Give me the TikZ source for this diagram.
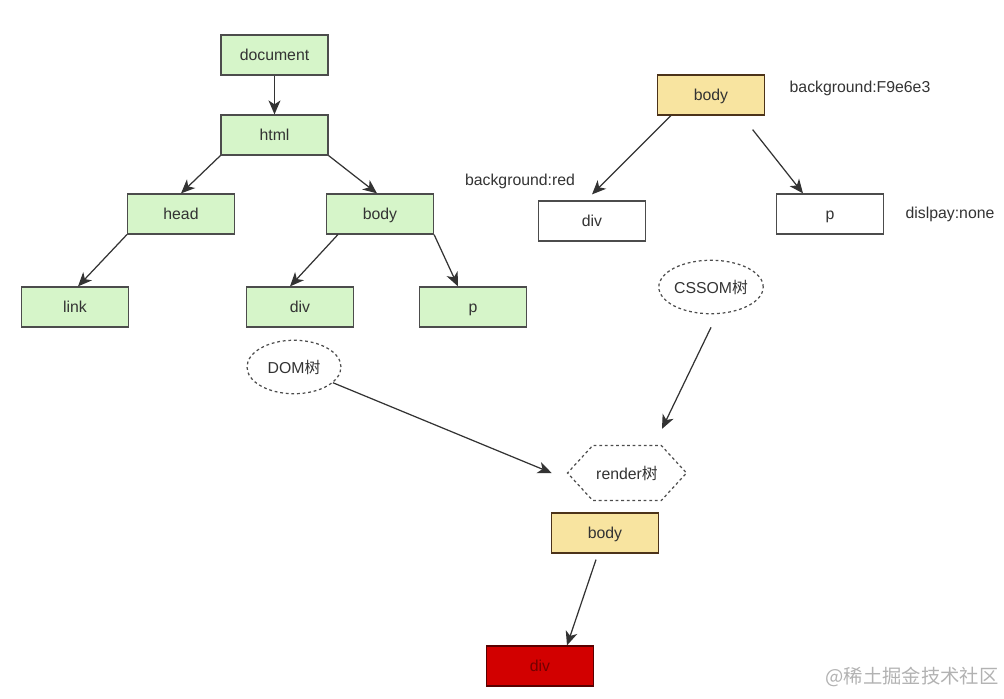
\documentclass[tikz,border=0pt]{standalone}
\usepackage{fontspec}
\setmainfont{Liberation Sans}
\newfontfamily\cjk{Noto Sans CJK SC}
\usetikzlibrary{arrows.meta,shapes.geometric,shapes.symbols}

\definecolor{domgreen}{HTML}{D6F5C9}
\definecolor{cssyellow}{HTML}{F8E4A0}
\definecolor{renderred}{HTML}{D20000}
\definecolor{linegray}{HTML}{333333}

\tikzstyle{domnode} = [rectangle, minimum width=2.14cm, minimum height=0.8cm, text centered, text height=1.6ex, text depth=0.4ex, line width=0.7pt, draw=black!70, fill=domgreen]
\tikzstyle{cssnode} = [rectangle, minimum width=2.14cm, minimum height=0.8cm, text centered, text height=1.6ex, text depth=0.4ex, line width=0.7pt, draw=black!70, fill=white]
\tikzstyle{stylenode} = [rectangle, minimum width=2.14cm, minimum height=0.8cm, text centered, text height=1.6ex, text depth=0.4ex, line width=0.7pt, draw=brown!40!black, fill=cssyellow]
\tikzstyle{rednode} = [rectangle, minimum width=2.14cm, minimum height=0.8cm, text centered, text height=1.6ex, text depth=0.4ex, line width=0.7pt, draw=red!35!black, fill=renderred, text=red!45!black]
\tikzstyle{treelabel} = [ellipse, dashed, dash pattern=on 1.6pt off 1.6pt, line width=0.7pt, draw=black!70, minimum width=1.88cm, minimum height=1.07cm, inner sep=0pt]
\tikzstyle{renderlabel} = [signal, signal to=east and west, signal pointer angle=95, dashed, dash pattern=on 1.6pt off 1.6pt, line width=0.7pt, draw=black!70, minimum width=2.38cm, minimum height=1.1cm, inner sep=0pt]
\tikzstyle{note} = [text=linegray]
\tikzstyle{arrow} = [line width=0.7pt, draw=linegray, -{Stealth[length=2.8mm,width=2.4mm,inset=0.8mm]}]

\begin{document}
\begin{tikzpicture}[x=0.02cm, y=-0.02cm, node distance=1.6cm, font=\fontsize{9}{11}\selectfont, text=linegray]
\useasboundingbox (0,0) rectangle (1004,699);
% DOM tree
\node (doc) [domnode] at (274.5,55) {document};
\node (html) [domnode, below of=doc] {html};
\node (head) [domnode] at (181,214) {head};
\node (body) [domnode] at (380,214) {body};
\node (link) [domnode] at (75,307) {link};
\node (div) [domnode] at (300,307) {div};
\node (p) [domnode] at (473,307) {p};
\node (domlabel) [treelabel] at (294,367) {DOM{\cjk 树}};
\draw [arrow] (doc) -- (html);
\draw [arrow] (html.south west) -- (head.north);
\draw [arrow] (html.south east) -- ([xshift=-0.06cm]body.north);
\draw [arrow] (head.south west) -- ([xshift=0.06cm]link.north);
\draw [arrow] ([xshift=0.24cm]body.south west) -- ([xshift=-0.2cm]div.north);
\draw [arrow] (body.south east) -- ([xshift=-0.3cm]p.north);
% CSSOM tree
\node (cbody) [stylenode] at (711,95) {body};
\node (cdiv) [cssnode] at (592,221) {div};
\node (cp) [cssnode] at (830,214) {p};
\node (bgnote) [note] at (860,88) {background:F9e6e3};
\node (rednote) [note] at (520,181) {background:red};
\node (nonenote) [note] at (950,214) {dislpay:none};
\node (csslabel) [treelabel] at (711,287) {CSSOM{\cjk 树}};
\draw [arrow] ([xshift=0.28cm]cbody.south west) -- ([yshift=0.12cm]cdiv.north);
\draw [arrow] ([xshift=-0.25cm, yshift=-0.28cm]cbody.south east) -- ([xshift=-0.54cm]cp.north);
% render tree
\node (render) [renderlabel] at (627,473) {render{\cjk 树}};
\node (rbody) [stylenode] at (605,533) {body};
\node (rdiv) [rednode] at (540,666) {div};
\draw [arrow] (domlabel.-22) -- ([xshift=-0.3cm]render.west);
\draw [arrow] ([yshift=-0.26cm]csslabel.south) -- ([xshift=0.7cm, yshift=0.32cm]render.north);
\draw [arrow] ([xshift=-0.18cm, yshift=-0.12cm]rbody.south) -- ([xshift=0.54cm]rdiv.north);
\node (mark) [text=black!30, font=\cjk\fontsize{11}{13}\selectfont] at (912,677) {@稀土掘金技术社区};
\end{tikzpicture}
\end{document}
